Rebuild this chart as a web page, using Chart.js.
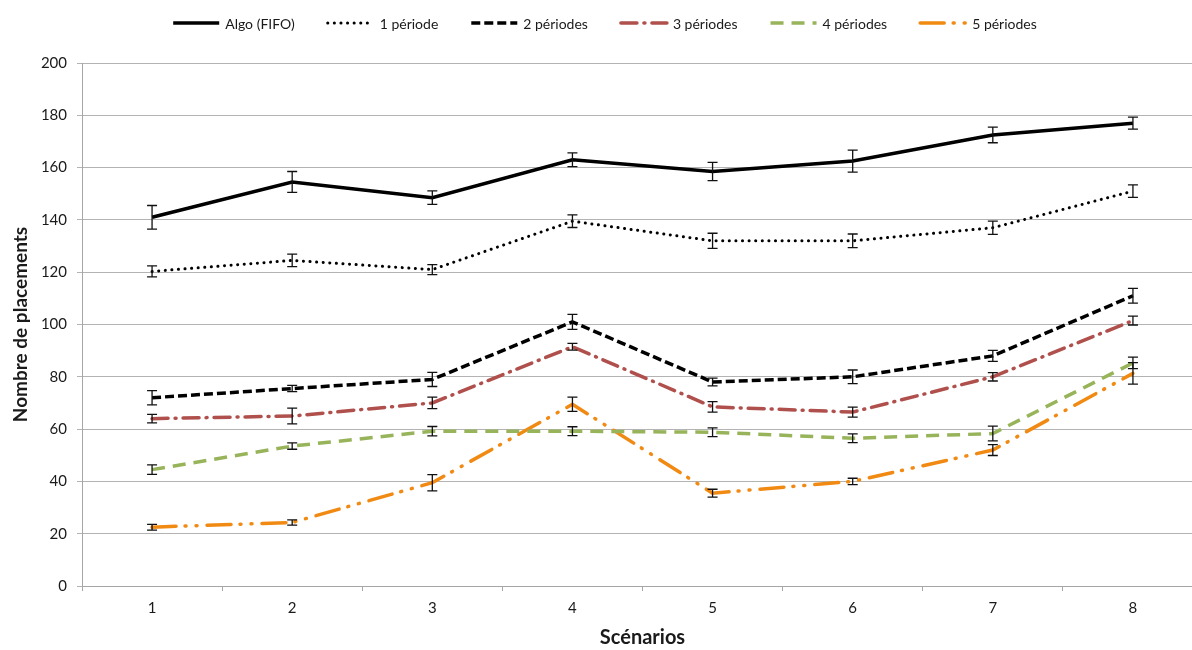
<!DOCTYPE html>
<html>
<head>
<meta charset="utf-8">
<script src="https://cdn.jsdelivr.net/npm/chart.js@4.4.1/dist/chart.umd.min.js"></script>
<style>
  html, body { margin: 0; padding: 0; background: #fff; overflow: hidden; }
  #graphe { display: block; }
</style>
</head>
<body>
<canvas id="graphe" width="1215" height="650"></canvas>
<script>
// donnees
const scenarios = ["1", "2", "3", "4", "5", "6", "7", "8"];
const yTicks = [0, 20, 40, 60, 80, 100, 120, 140, 160, 180, 200];

const algoFifo = [141, 154.5, 148.5, 163, 158.5, 162.5, 172.5, 177];
const errAlgo = [4.5, 4, 2.6, 2.6, 3.5, 4.2, 3, 2.3];

const periode1 = [120.3, 124.5, 121, 139.5, 132, 132, 137, 151];
const errP1 = [2.1, 2.4, 1.9, 2.4, 2.9, 2.6, 2.5, 2.4];

const periode2 = [72, 75.5, 79, 101, 78, 80, 88, 111];
const errP2 = [2.7, 1.2, 2.7, 2.9, 1.5, 2.6, 2.1, 2.8];

const periode3 = [64, 65, 70, 91.5, 68.5, 66.5, 80, 101.5];
const errP3 = [1.6, 3, 2.2, 1.3, 2, 1.9, 1.6, 1.7];

const periode4 = [44.5, 53.5, 59.2, 59.2, 58.8, 56.5, 58.3, 85.3];
const errP4 = [1.8, 1.2, 1.8, 1.7, 1.7, 1.7, 2.8, 2.2];

const periode5 = [22.5, 24.3, 39.5, 69.5, 35.5, 40, 52, 81.3];
const errP5 = [1.1, 1, 3.1, 2.7, 1.5, 1.2, 2.1, 4.1];

const police = "Lato, 'Open Sans', sans-serif";

// barres d'erreur (dessinees par dessus les courbes)
const barresErreur = {
  id: "barresErreur",
  afterDatasetsDraw(chart) {
    const ctx = chart.ctx;
    const yScale = chart.scales.y;
    ctx.save();
    ctx.strokeStyle = "#111";
    ctx.lineWidth = 1.3;
    ctx.setLineDash([]);
    ctx.lineCap = "butt";
    chart.data.datasets.forEach((ds, i) => {
      const meta = chart.getDatasetMeta(i);
      ds.erreurs.forEach((e, j) => {
        const x = meta.data[j].x;
        const yh = yScale.getPixelForValue(ds.data[j] + e);
        const yb = yScale.getPixelForValue(ds.data[j] - e);
        ctx.beginPath();
        ctx.moveTo(x, yh); ctx.lineTo(x, yb);
        ctx.moveTo(x - 5, yh); ctx.lineTo(x + 5, yh);
        ctx.moveTo(x - 5, yb); ctx.lineTo(x + 5, yb);
        ctx.stroke();
      });
    });
    ctx.restore();
  }
};

// legende en haut, avec les memes traits que les courbes
const legendeLignes = {
  id: "legendeLignes",
  afterDraw(chart) {
    const ctx = chart.ctx;
    ctx.save();
    ctx.font = "14px " + police;
    const trait = 46, ecartTexte = 6, ecartItem = 33;
    const items = chart.data.datasets.map(ds => ({ ds: ds, w: trait + ecartTexte + ctx.measureText(ds.label).width }));
    const total = items.reduce((s, it) => s + it.w, 0) + ecartItem * (items.length - 1);
    let x = 605 - total / 2;
    const y = 23;
    items.forEach(it => {
      const ds = it.ds;
      ctx.beginPath();
      ctx.setLineDash(ds.borderDash || []);
      ctx.lineCap = ds.borderCapStyle || "butt";
      ctx.strokeStyle = ds.borderColor;
      ctx.lineWidth = ds.borderWidth;
      ctx.moveTo(x, y);
      ctx.lineTo(x + trait, y);
      ctx.stroke();
      ctx.setLineDash([]);
      ctx.fillStyle = "#1a1a1a";
      ctx.textBaseline = "middle";
      ctx.fillText(ds.label, x + trait + ecartTexte, y + 1);
      x += it.w + ecartItem;
    });
    ctx.restore();
  }
};

function serie(label, data, erreurs, couleur, largeur, tirets, bout) {
  return {
    label: label,
    data: data,
    erreurs: erreurs,
    borderColor: couleur,
    backgroundColor: couleur,
    borderWidth: largeur,
    borderDash: tirets,
    borderCapStyle: bout,
    pointRadius: 0,
    pointHoverRadius: 0,
    tension: 0,
    fill: false
  };
}

new Chart("graphe", {
  type: "line",
  data: {
    labels: scenarios,
    datasets: [
      serie("Algo (FIFO)", algoFifo, errAlgo, "#000", 3.5, [], "butt"),
      serie("1 période", periode1, errP1, "#000", 3, [0.1, 6.5], "round"),
      serie("2 périodes", periode2, errP2, "#000", 3.5, [9, 4], "butt"),
      serie("3 périodes", periode3, errP3, "#b0504c", 3.5, [16, 7, 1, 7], "round"),
      serie("4 périodes", periode4, errP4, "#98b45a", 3.5, [13, 8], "butt"),
      serie("5 périodes", periode5, errP5, "#f18a13", 3.5, [24, 9, 1, 10, 1, 10], "round")
    ]
  },
  options: {
    responsive: false,
    animation: false,
    layout: { padding: { top: 63, right: 12, bottom: 0, left: 0 } },
    plugins: {
      legend: { display: false },
      tooltip: { enabled: false }
    },
    scales: {
      x: {
        offset: true,
        grid: { offset: true, drawOnChartArea: false, tickLength: 5, color: "#a6a6a6" },
        border: { color: "#a6a6a6" },
        ticks: { color: "#1a1a1a", font: { family: police, size: 15 }, padding: 8 },
        title: { display: true, text: "Scénarios", color: "#1a1a1a", font: { family: police, size: 20, weight: "bold" }, padding: { top: 4, bottom: 0 } },
        afterFit(scale) { scale.height = 64; }
      },
      y: {
        min: 0,
        max: 200,
        afterBuildTicks(scale) { scale.ticks = yTicks.map(v => ({ value: v })); },
        grid: { color: "#b3b3b3", tickLength: 5 },
        border: { color: "#a6a6a6" },
        ticks: { color: "#1a1a1a", font: { family: police, size: 15 }, padding: 10 },
        title: { display: true, text: "Nombre de placements", color: "#1a1a1a", font: { family: police, size: 19, weight: "bold" }, padding: { top: 9, bottom: 4 } },
        afterFit(scale) { scale.width = 82; }
      }
    }
  },
  plugins: [barresErreur, legendeLignes]
});
</script>
</body>
</html>
